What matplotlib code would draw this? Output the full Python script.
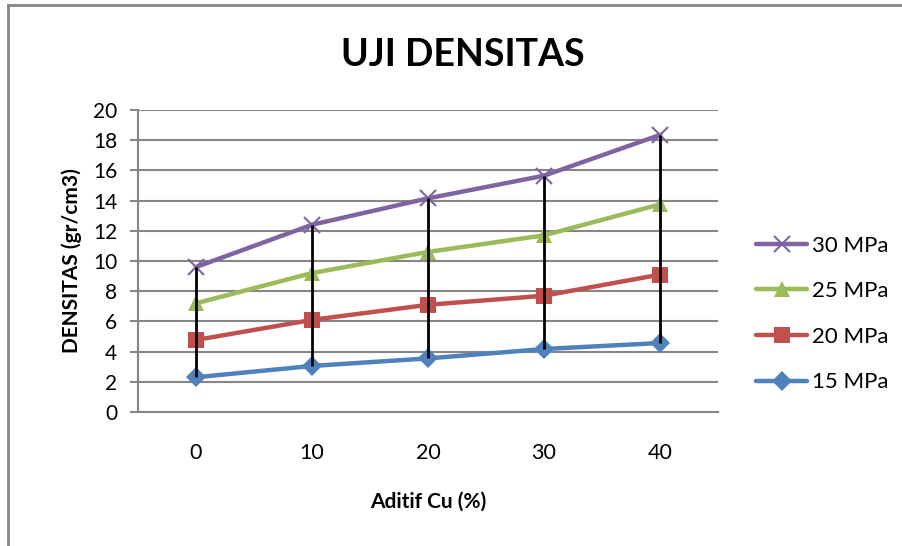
import matplotlib.pyplot as plt
from matplotlib.lines import Line2D

plt.rcParams['font.family'] = ['Lato', 'DejaVu Sans']

aditif = ["0", "10", "20", "30", "40"]
mpa_15 = [2.3, 3.05, 3.55, 4.17, 4.57]
mpa_20 = [4.77, 6.1, 7.1, 7.7, 9.1]
mpa_25 = [7.2, 9.2, 10.6, 11.7, 13.75]
mpa_30 = [9.6, 12.4, 14.15, 15.65, 18.35]

series = [
    ("15 MPa", mpa_15, "#4F81BD", "D", 10),
    ("20 MPa", mpa_20, "#C0504D", "s", 11),
    ("25 MPa", mpa_25, "#9BBB59", "^", 12),
    ("30 MPa", mpa_30, "#8064A2", "x", 12),
]

fig = plt.figure(figsize=(9.02, 5.46), dpi=100)
ax = fig.add_axes([138 / 902, 1 - 412 / 546, 580 / 902, 302 / 546])

x = list(range(len(aditif)))
handles = []
for name, vals, col, mk, ms in series:
    ax.plot(x, vals, color=col, lw=3.2, marker=mk, ms=ms, mew=1.5 if mk == "x" else 0,
            mfc=col, mec=col, zorder=3, solid_capstyle="round")
    handles.append(Line2D([], [], color=col, lw=3.2, marker=mk, ms=ms,
                          mew=1.5 if mk == "x" else 0, mfc=col, mec=col,
                          solid_capstyle="round"))

# high-low lines
lows = [min(v) for v in zip(mpa_15, mpa_20, mpa_25, mpa_30)]
highs = [max(v) for v in zip(mpa_15, mpa_20, mpa_25, mpa_30)]
ax.vlines(x, lows, highs, colors="black", lw=2, zorder=4)

ax.set_xlim(-0.5, 4.5)
ax.set_ylim(0, 20)
ax.set_yticks(range(0, 21, 2))
ax.set_xticks(x)
ax.set_xticklabels(aditif)
ax.grid(axis="y", color="#868686", lw=1.5)
ax.set_axisbelow(True)
for s in ["top", "right"]:
    ax.spines[s].set_visible(False)
for s in ["left", "bottom"]:
    ax.spines[s].set_color("#868686")
    ax.spines[s].set_linewidth(1.5)
ax.tick_params(axis="y", length=6, width=1.5, color="#868686", labelsize=15, pad=9)
ax.tick_params(axis="x", length=0, labelsize=15.5, pad=22)

ax.set_ylabel("DENSITAS (gr/cm3)", fontsize=15, fontweight="bold", labelpad=8)
ax.set_xlabel("Aditif Cu (%)", fontsize=15, fontweight="bold", labelpad=21)
fig.text(0.513, 0.9, "UJI DENSITAS", ha="center", va="center", fontsize=27, fontweight="bold")

fig.legend(handles[::-1], [s[0] for s in series][::-1], loc="center left",
           bbox_to_anchor=(736 / 902, 1 - 314 / 546), frameon=False, fontsize=16,
           handlelength=2.3, handletextpad=0.2, labelspacing=1.15)

# chart frame (left and top only visible)
fig.add_artist(Line2D([8 / 902, 8 / 902], [0, 1 - 5 / 546], color="#868686", lw=2))
fig.add_artist(Line2D([8 / 902, 1], [1 - 5 / 546, 1 - 5 / 546], color="#868686", lw=2))

fig.savefig("out.png", dpi=100)
